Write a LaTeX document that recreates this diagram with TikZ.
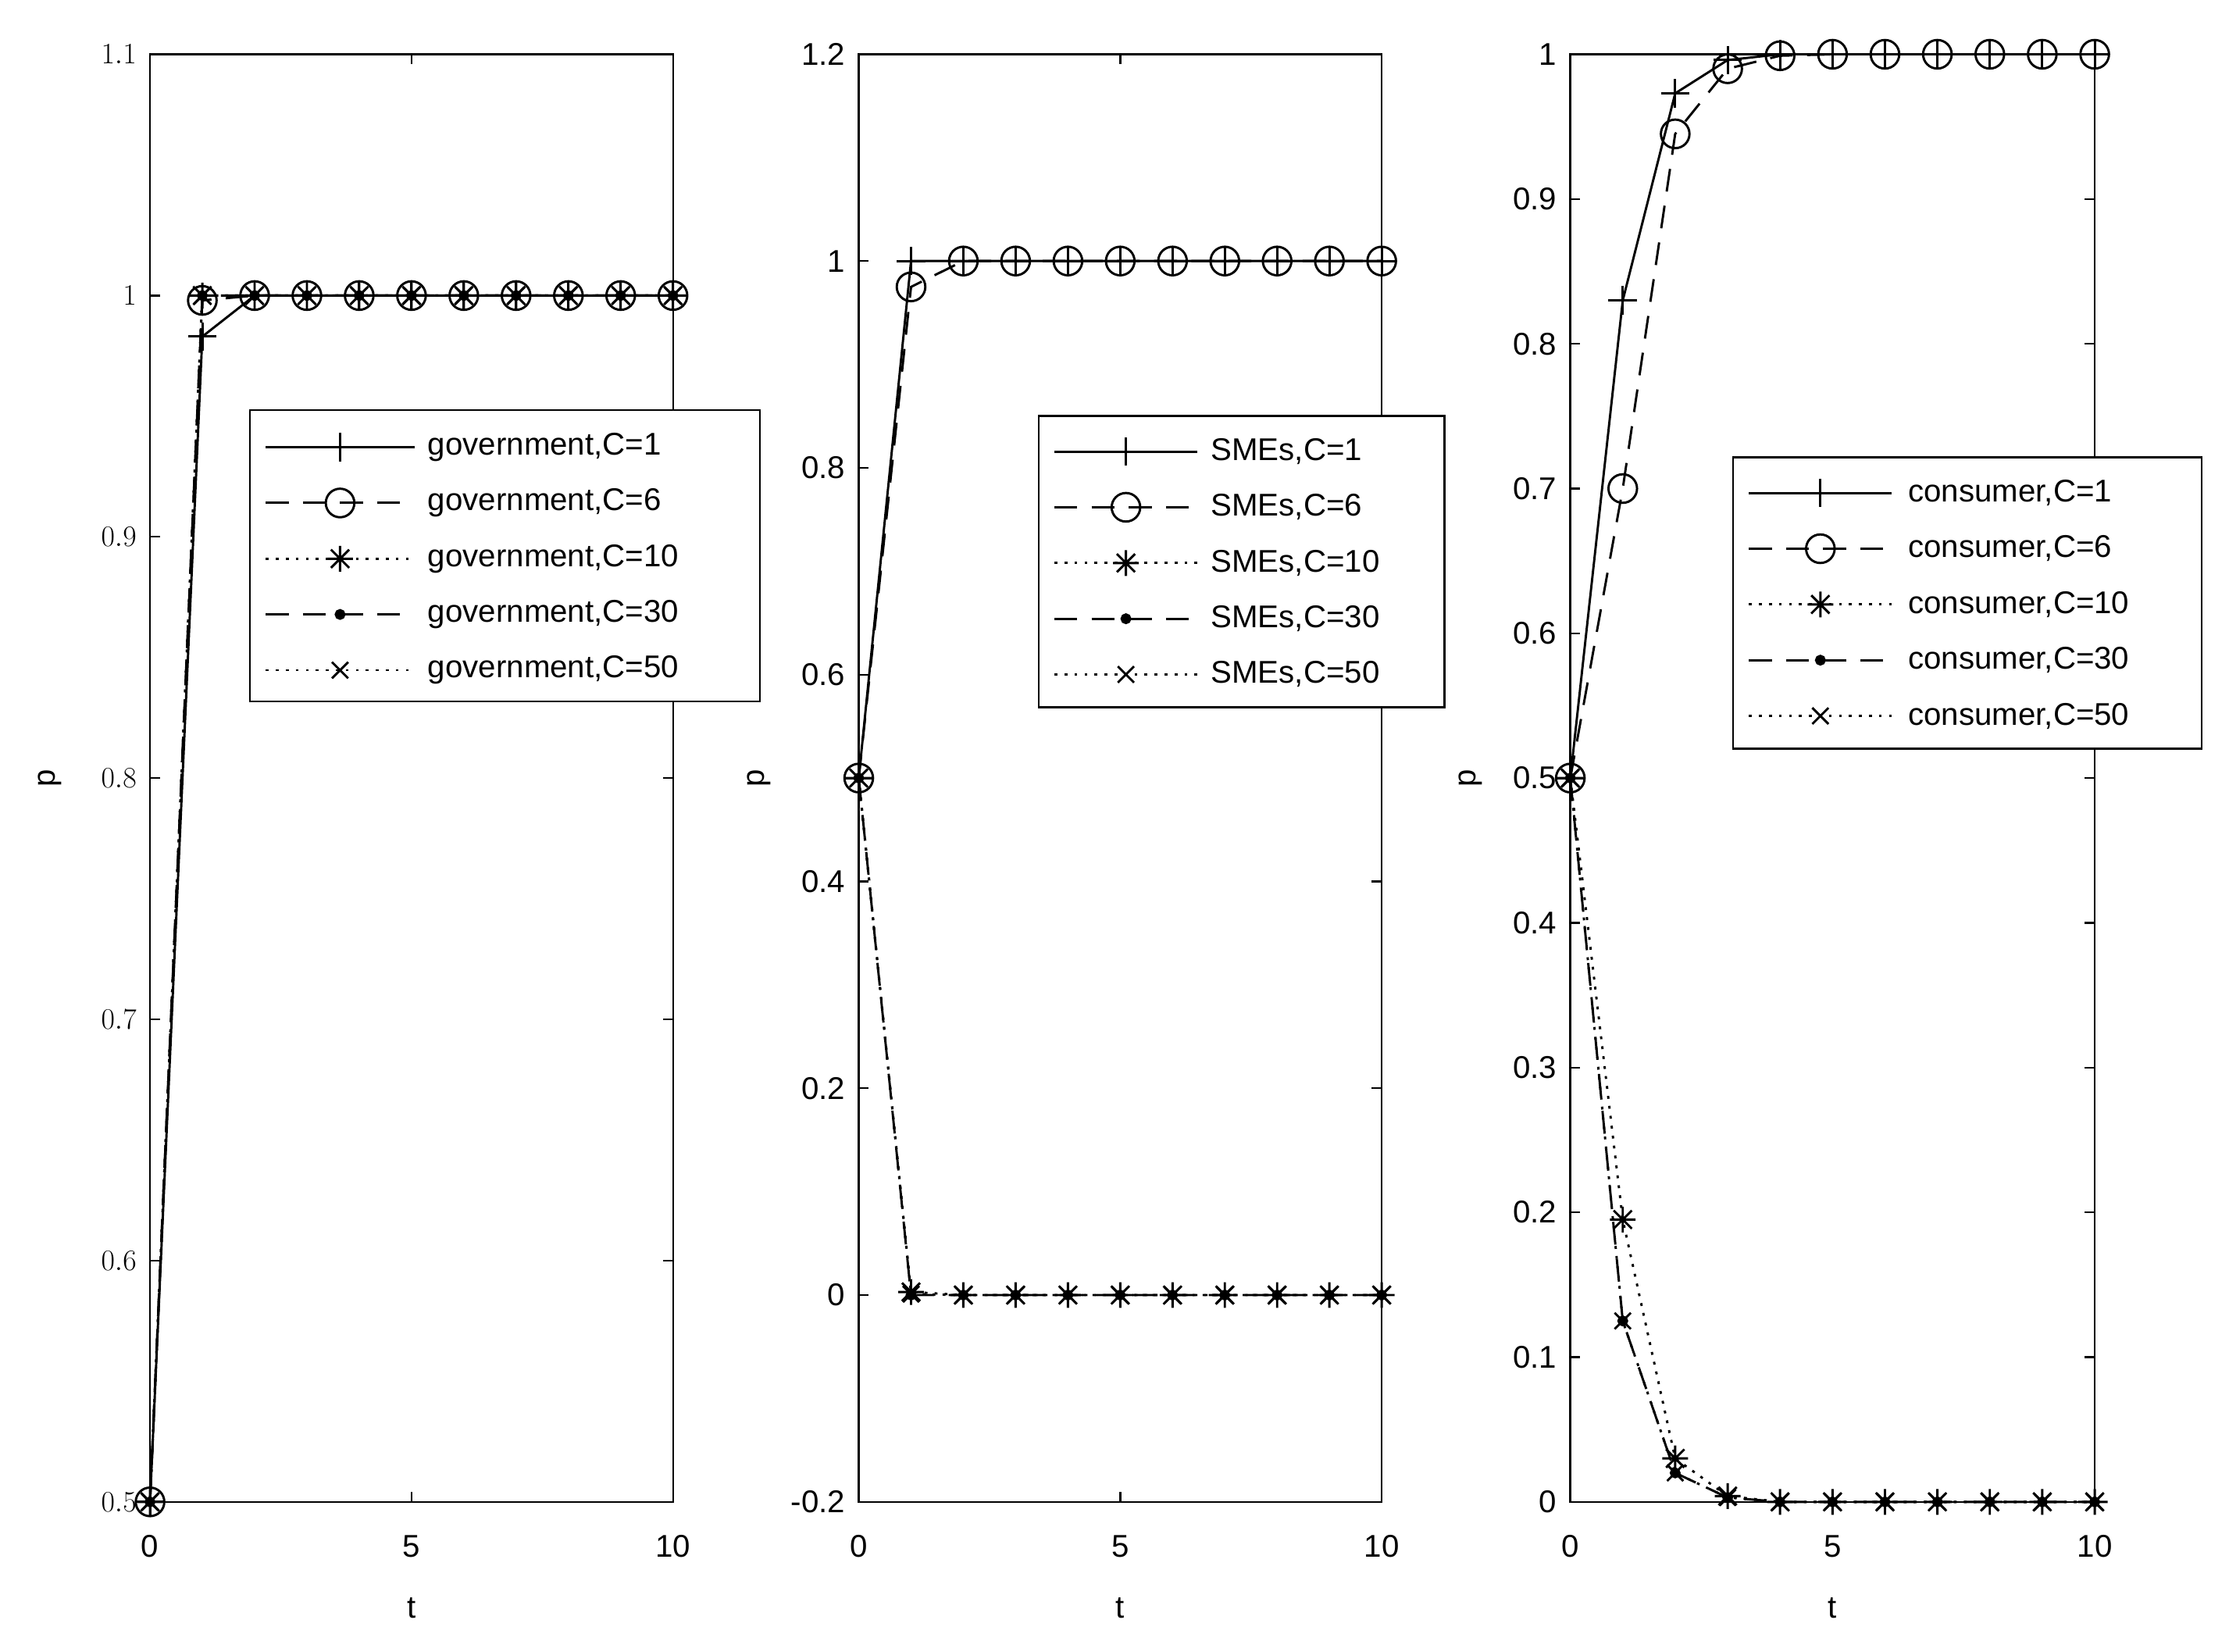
\documentclass[tikz,border=0pt]{standalone}
\usepackage{fontspec}
\setmainfont{Liberation Sans}
\usetikzlibrary{plotmarks}
\pgfdeclareplotmark{mstar}{%
\pgfpathmoveto{\pgfqpoint{0pt}{\pgfplotmarksize}}\pgfpathlineto{\pgfqpoint{0pt}{-\pgfplotmarksize}}%
\pgfpathmoveto{\pgfqpoint{\pgfplotmarksize}{0pt}}\pgfpathlineto{\pgfqpoint{-\pgfplotmarksize}{0pt}}%
\pgfpathmoveto{\pgfqpoint{.707\pgfplotmarksize}{.707\pgfplotmarksize}}\pgfpathlineto{\pgfqpoint{-.707\pgfplotmarksize}{-.707\pgfplotmarksize}}%
\pgfpathmoveto{\pgfqpoint{.707\pgfplotmarksize}{-.707\pgfplotmarksize}}\pgfpathlineto{\pgfqpoint{-.707\pgfplotmarksize}{.707\pgfplotmarksize}}%
\pgfusepathqstroke}
\tikzset{
 sA/.style={line width=1.6pt},
 sB/.style={line width=1.6pt,dash pattern=on 16pt off 10pt},
 sC/.style={line width=1.6pt,dash pattern=on 2pt off 5pt},
 sD/.style={line width=1.6pt,dash pattern=on 16pt off 10pt},
 sE/.style={line width=1.6pt,dash pattern=on 2pt off 5pt},
 mA/.style={mark=+,mark size=10pt,mark options={solid,line width=1.6pt}},
 mB/.style={mark=o,mark size=10pt,mark options={solid,line width=1.6pt}},
 mC/.style={mark=mstar,mark size=9pt,mark options={solid,line width=1.6pt}},
 mD/.style={mark=*,mark size=3pt,mark options={solid}},
 mE/.style={mark=x,mark size=8pt,mark options={solid,line width=1.6pt}},
 lab/.style={font=\fontsize{22}{26}\selectfont},
 ax/.style={line width=1.3pt}
}
\newcommand{\legrow}[4]{% y, line style, mark style, text ; uses \lx1 \lx2 \lt
 \draw[#2] (\lxa,#1) -- (\lxb,#1);
 \draw[#2] plot[#3] coordinates {({(\lxa+\lxb)/2},#1)};
 \node[lab,anchor=west] (lg#1) at (\lt,#1) {#4};}
\begin{document}
\begin{tikzpicture}[x=1pt,y=1pt]
\useasboundingbox (0,0) rectangle (1560,1156);
% ---------- panel 1
\begin{scope}[shift={(105pt,105pt)},x=36.6pt,y=1688.3pt]
\draw[ax] (0,0) rectangle (10,0.6);
\foreach \v in {0.5,0.6,...,1.15}{
 \draw[ax] (0,\v-0.5) -- ++(7pt,0); \draw[ax] (10,\v-0.5) -- ++(-7pt,0);
 \node[lab,anchor=east] at ([xshift=-6pt]0,\v-0.5) {\pgfmathprintnumber[fixed,precision=1]{\v}};}
\foreach \v in {0,5,10}{\draw[ax] (\v,0) -- ++(0,7pt); \draw[ax] (\v,0.6) -- ++(0,-7pt);
 \node[lab] at ([yshift=-31pt]\v,0) {\v};}
\node[lab,rotate=90] at ([xshift=-70pt]0,0.3) {p};
\node[lab] at ([yshift=-74pt]5,0) {t};
\draw[sA] plot[mA] coordinates {(0,0) (1,0.483) (2,.5) (3,.5) (4,.5) (5,.5) (6,.5) (7,.5) (8,.5) (9,.5) (10,.5)};
\draw[sB] plot[mB] coordinates {(0,0) (1,0.498) (2,.5) (3,.5) (4,.5) (5,.5) (6,.5) (7,.5) (8,.5) (9,.5) (10,.5)};
\draw[sC] plot[mC] coordinates {(0,0) (1,0.5) (2,.5) (3,.5) (4,.5) (5,.5) (6,.5) (7,.5) (8,.5) (9,.5) (10,.5)};
\draw[sD] plot[mD] coordinates {(0,0) (1,0.5) (2,.5) (3,.5) (4,.5) (5,.5) (6,.5) (7,.5) (8,.5) (9,.5) (10,.5)};
\draw[sE] plot[mE] coordinates {(0,0) (1,0.5) (2,.5) (3,.5) (4,.5) (5,.5) (6,.5) (7,.5) (8,.5) (9,.5) (10,.5)};
\end{scope}
% ---------- panel 2
\begin{scope}[shift={(601pt,105pt)},x=36.6pt,y=723.6pt]
\draw[ax] (0,0) rectangle (10,1.4);
\foreach \v in {-0.2,0,0.2,0.4,0.6,0.8,1,1.2}{
 \draw[ax] (0,\v+0.2) -- ++(7pt,0); \draw[ax] (10,\v+0.2) -- ++(-7pt,0);
 \node[lab,anchor=east] at ([xshift=-6pt]0,\v+0.2) {\v};}
\foreach \v in {0,5,10}{\draw[ax] (\v,0) -- ++(0,7pt); \draw[ax] (\v,1.4) -- ++(0,-7pt);
 \node[lab] at ([yshift=-31pt]\v,0) {\v};}
\node[lab,rotate=90] at ([xshift=-70pt]0,0.7) {p};
\node[lab] at ([yshift=-74pt]5,0) {t};
\draw[sA] plot[mA] coordinates {(0,.7) (1,1.2) (2,1.2) (3,1.2) (4,1.2) (5,1.2) (6,1.2) (7,1.2) (8,1.2) (9,1.2) (10,1.2)};
\draw[sB] plot[mB] coordinates {(0,.7) (1,1.175) (2,1.2) (3,1.2) (4,1.2) (5,1.2) (6,1.2) (7,1.2) (8,1.2) (9,1.2) (10,1.2)};
\draw[sC] plot[mC] coordinates {(0,.7) (1,.203) (2,.2) (3,.2) (4,.2) (5,.2) (6,.2) (7,.2) (8,.2) (9,.2) (10,.2)};
\draw[sD] plot[mD] coordinates {(0,.7) (1,.2) (2,.2) (3,.2) (4,.2) (5,.2) (6,.2) (7,.2) (8,.2) (9,.2) (10,.2)};
\draw[sE] plot[mE] coordinates {(0,.7) (1,.201) (2,.2) (3,.2) (4,.2) (5,.2) (6,.2) (7,.2) (8,.2) (9,.2) (10,.2)};
\end{scope}
% ---------- panel 3
\begin{scope}[shift={(1099pt,105pt)},x=36.7pt,y=1013pt]
\draw[ax] (0,0) rectangle (10,1);
\foreach \v in {0,0.1,0.2,0.3,0.4,0.5,0.6,0.7,0.8,0.9,1}{
 \draw[ax] (0,\v) -- ++(7pt,0); \draw[ax] (10,\v) -- ++(-7pt,0);
 \node[lab,anchor=east] at ([xshift=-6pt]0,\v) {\v};}
\foreach \v in {0,5,10}{\draw[ax] (\v,0) -- ++(0,7pt); \draw[ax] (\v,1) -- ++(0,-7pt);
 \node[lab] at ([yshift=-31pt]\v,0) {\v};}
\node[lab,rotate=90] at ([xshift=-70pt]0,0.5) {p};
\node[lab] at ([yshift=-74pt]5,0) {t};
\draw[sA] plot[mA] coordinates {(0,.5) (1,.83) (2,.973) (3,.996) (4,1) (5,1) (6,1) (7,1) (8,1) (9,1) (10,1)};
\draw[sB] plot[mB] coordinates {(0,.5) (1,.70) (2,.945) (3,.99) (4,.999) (5,1) (6,1) (7,1) (8,1) (9,1) (10,1)};
\draw[sC] plot[mC] coordinates {(0,.5) (1,.195) (2,.03) (3,.004) (4,0) (5,0) (6,0) (7,0) (8,0) (9,0) (10,0)};
\draw[sD] plot[mD] coordinates {(0,.5) (1,.125) (2,.02) (3,.003) (4,0) (5,0) (6,0) (7,0) (8,0) (9,0) (10,0)};
\draw[sE] plot[mE] coordinates {(0,.5) (1,.125) (2,.02) (3,.003) (4,0) (5,0) (6,0) (7,0) (8,0) (9,0) (10,0)};
\end{scope}
% ---------- legends
\draw[ax,fill=white] (175,665) rectangle (532,869);
\def\lxa{186}\def\lxb{290}\def\lt{296}
\legrow{843}{sA}{mA}{government,C=1}
\legrow{804}{sB}{mB}{government,C=6}
\legrow{765}{sC}{mC}{government,C=10}
\legrow{726}{sD}{mD}{government,C=30}
\legrow{687}{sE}{mE}{government,C=50}
\draw[ax,fill=white] (727,661) rectangle (1011,865);
\def\lxa{738}\def\lxb{838}\def\lt{844}
\legrow{840}{sA}{mA}{SMEs,C=1}
\legrow{801}{sB}{mB}{SMEs,C=6}
\legrow{762}{sC}{mC}{SMEs,C=10}
\legrow{723}{sD}{mD}{SMEs,C=30}
\legrow{684}{sE}{mE}{SMEs,C=50}
\draw[ax,fill=white] (1213,632) rectangle (1541,836);
\def\lxa{1224}\def\lxb{1324}\def\lt{1332}
\legrow{811}{sA}{mA}{consumer,C=1}
\legrow{772}{sB}{mB}{consumer,C=6}
\legrow{733}{sC}{mC}{consumer,C=10}
\legrow{694}{sD}{mD}{consumer,C=30}
\legrow{655}{sE}{mE}{consumer,C=50}
\end{tikzpicture}
\end{document}
